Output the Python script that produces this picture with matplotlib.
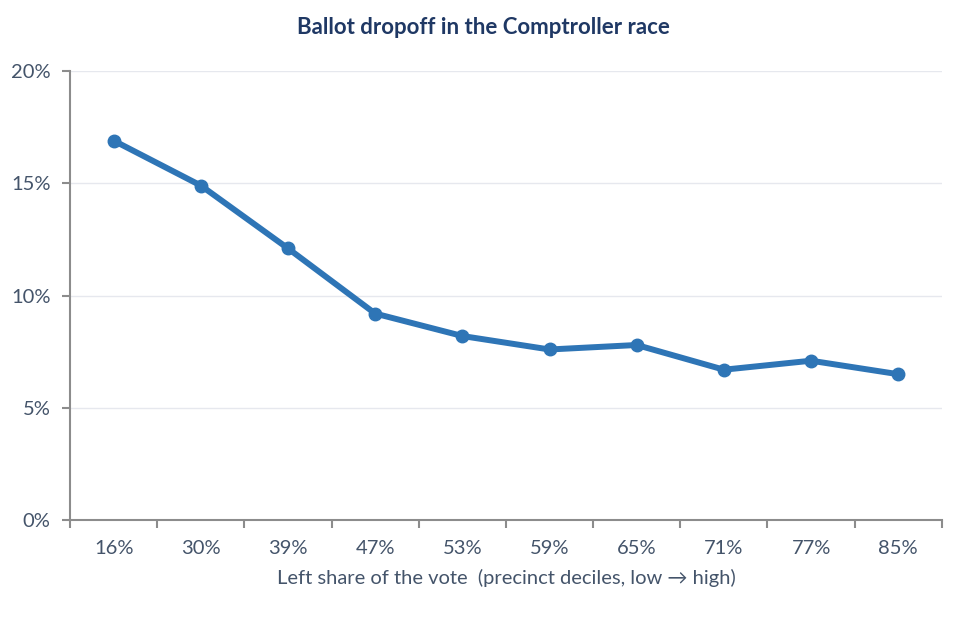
import numpy as np
import matplotlib.pyplot as plt
from matplotlib.ticker import FixedLocator, PercentFormatter

categories = ['16%', '30%', '39%', '47%', '53%', '59%', '65%', '71%', '77%', '85%']
dropoff = [16.9, 14.9, 12.1, 9.2, 8.2, 7.6, 7.8, 6.7, 7.1, 6.5]
y_ticks = [0, 5, 10, 15, 20]

plt.rcParams['font.family'] = ['Lato', 'DejaVu Sans']
text_color = '#44546a'
axis_color = '#8c8c8c'

fig = plt.figure(figsize=(9.66, 6.2), dpi=100)
ax = fig.add_axes([0.0725, 0.161, 0.9025, 0.7245])

x = np.arange(len(categories))
ax.plot(x, dropoff, color='#2e75b6', linewidth=4.3, marker='o', markersize=9,
        solid_capstyle='round', zorder=3)

ax.set_xlim(-0.5, len(categories) - 0.5)
ax.set_ylim(0, 20)
ax.set_yticks(y_ticks)
ax.yaxis.set_major_formatter(PercentFormatter(decimals=0))
ax.grid(axis='y', color='#e6e8ee', linewidth=1)
ax.set_axisbelow(True)

# ticks between categories, labels at category centres
ax.xaxis.set_major_locator(FixedLocator(np.arange(-0.5, len(categories), 1.0)))
ax.xaxis.set_major_formatter(plt.NullFormatter())
ax.xaxis.set_minor_locator(FixedLocator(x))
ax.set_xticklabels(categories, minor=True)
ax.tick_params(axis='x', which='major', length=6, width=1.5, color=axis_color, direction='out')
ax.tick_params(axis='x', which='minor', length=0, pad=14, labelsize=14.5, labelcolor=text_color)
ax.tick_params(axis='y', length=6, width=1.5, color=axis_color, labelsize=14.5,
               labelcolor=text_color, pad=8)

for side in ['top', 'right']:
    ax.spines[side].set_visible(False)
for side in ['left', 'bottom']:
    ax.spines[side].set_color(axis_color)
    ax.spines[side].set_linewidth(1.5)

ax.set_xlabel('Left share of the vote  (precinct deciles, low \u2192 high)',
              fontsize=14.5, color=text_color, labelpad=9)
fig.suptitle('Ballot dropoff in the Comptroller race', fontsize=16,
             fontweight='bold', color='#1f3864', y=0.972)

fig.savefig('out.png', dpi=100)
